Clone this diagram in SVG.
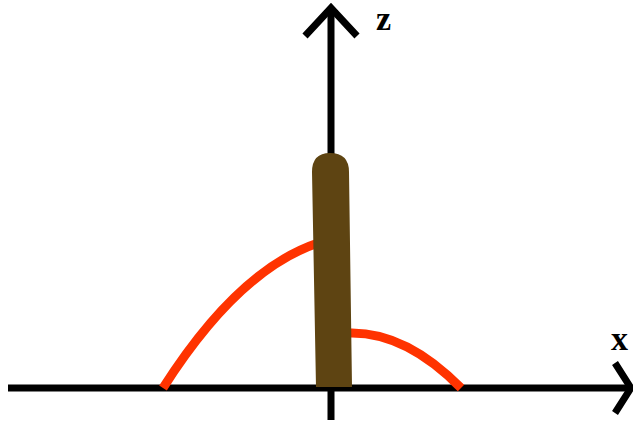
<svg xmlns="http://www.w3.org/2000/svg" width="633" height="428" viewBox="0 0 633 428">
<style>
.ax{stroke:#000;stroke-width:7;fill:none}
.red{stroke:#ff3300;stroke-width:9;fill:none}
.lbl{font-family:"Liberation Serif","DejaVu Serif",serif;font-weight:bold;fill:#000}
</style>
<rect width="633" height="428" fill="#fff"/>
<g id="connectors">
<line class="ax" x1="8" y1="388" x2="630" y2="388"/>
<polyline class="ax" points="615,363 631,388 615,413"/>
<line class="ax" x1="331" y1="420" x2="331" y2="8"/>
<polyline class="ax" points="305,36 331,8 357,36"/>
</g>
<g id="curves">
<path class="red" d="M163,388 Q238,270 318,243"/>
<path class="red" d="M348,333 Q405,331 461,388"/>
</g>
<g id="bar">
<path d="M312,172 Q312,153 330,153 Q349,153 349,172 L352,387 L316,387 Z" fill="#5e4412"/>
</g>
<g id="labels">
<text class="lbl" x="376" y="30" font-size="34">z</text>
<text class="lbl" x="611" y="350" font-size="34">x</text>
</g>
</svg>
